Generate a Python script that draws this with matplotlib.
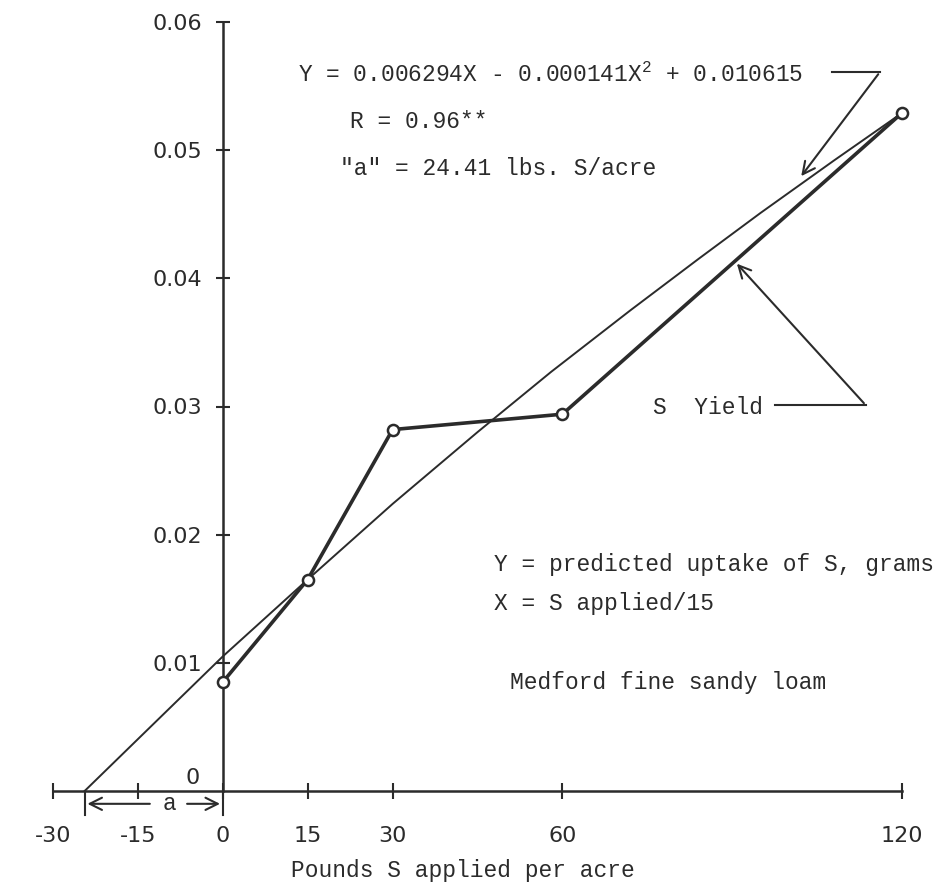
import matplotlib
matplotlib.use("Agg")
import matplotlib.pyplot as plt

# measured S uptake (grams) vs pounds S applied per acre
s_applied = [0, 15, 30, 60, 120]
s_yield = [0.0085, 0.0165, 0.0282, 0.0294, 0.0529]

# fitted curve, points
fit_s = [-24.41, 0, 15, 30, 45, 58, 72, 84, 95, 108, 120]
fit_y = [0.0, 0.0105, 0.0165, 0.0224, 0.0280, 0.0327, 0.0375, 0.0415, 0.0451, 0.0492, 0.0529]

x_ticks = [-30, -15, 0, 15, 30, 60, 120]
y_ticks = [0.01, 0.02, 0.03, 0.04, 0.05, 0.06]
a_value = 24.41

INK = "#2b2b2b"
MONO = "Liberation Mono"
LABEL_FONT = "DejaVu Sans"

plt.rcParams["mathtext.fontset"] = "custom"
plt.rcParams["mathtext.rm"] = MONO

fig = plt.figure(figsize=(9.5, 8.83), dpi=100)
ax = fig.add_axes([53 / 950, 92 / 883, 849 / 950, 769 / 883])
ax.set_xlim(-30, 120)
ax.set_ylim(0, 0.06)

for side in ("top", "right"):
    ax.spines[side].set_visible(False)
ax.spines["left"].set_position(("data", 0))
ax.spines["bottom"].set_position(("data", 0))
for side in ("left", "bottom"):
    ax.spines[side].set_linewidth(1.8)
    ax.spines[side].set_color(INK)

ax.set_xticks(x_ticks)
ax.set_xticklabels([str(v) for v in x_ticks], family=LABEL_FONT, fontsize=16, color=INK)
ax.set_yticks(y_ticks)
ax.set_yticklabels([f"{v:.2f}" for v in y_ticks], family=LABEL_FONT, fontsize=16, color=INK)
ax.tick_params(axis="x", direction="inout", length=12, width=1.5, color=INK, pad=19)
ax.tick_params(axis="y", direction="inout", length=10, width=1.5, color=INK, pad=10)
ax.annotate("0", xy=(0, 0), xytext=(-16.5, 9.5), textcoords="offset points",
            ha="right", va="center", family=LABEL_FONT, fontsize=16, color=INK)

# curves
ax.plot(fit_s, fit_y, color=INK, lw=1.4, zorder=3, clip_on=False)
ax.plot(s_applied, s_yield, color=INK, lw=2.6, zorder=4, clip_on=False,
        marker="o", ms=8, mfc="white", mec=INK, mew=1.8)

txt = dict(family=MONO, fontsize=16.5, color=INK, va="center", ha="left")
ax.text(13.3, 0.0559, r"Y = 0.006294X - 0.000141X$\mathregular{^2}$ + 0.010615", **txt)
ax.text(22.4, 0.0522, "R = 0.96**", **txt)
ax.text(20.7, 0.0486, "\"a\" = 24.41 lbs. S/acre", **txt)
ax.text(76.0, 0.0299, "S  Yield", **txt)
ax.text(48.0, 0.0177, "Y = predicted uptake of S, grams", **txt)
ax.text(48.0, 0.0146, "X = S applied/15", **txt)
ax.text(50.7, 0.0085, "Medford fine sandy loam", **txt)
ax.text(42.5, -0.0062, "Pounds S applied per acre", family=MONO, fontsize=16.5,
        color=INK, ha="center", va="center", clip_on=False)

# leader lines with arrows
arrow = dict(arrowstyle="->", color=INK, lw=1.5, mutation_scale=22)
ax.plot([107.6, 116.1], [0.0561, 0.0561], color=INK, lw=1.5, clip_on=False)
ax.annotate("", xy=(101.9, 0.0478), xytext=(116.1, 0.0561), arrowprops=arrow)
ax.plot([97.5, 113.6], [0.0301, 0.0301], color=INK, lw=1.5, clip_on=False)
ax.annotate("", xy=(90.5, 0.0413), xytext=(113.6, 0.0301), arrowprops=arrow)

# "a" dimension below the x axis
ax.plot([-a_value, -a_value], [0, -0.0019], color=INK, lw=1.5, clip_on=False)
ax.plot([0, 0], [0, -0.0019], color=INK, lw=1.5, clip_on=False)
ax.text(-9.5, -0.0010, "a", family=MONO, fontsize=16.5, color=INK,
        ha="center", va="center")
ax.annotate("", xy=(-a_value, -0.0010), xytext=(-12.4, -0.0010), arrowprops=arrow,
            annotation_clip=False)
ax.annotate("", xy=(0, -0.0010), xytext=(-6.8, -0.0010), arrowprops=arrow,
            annotation_clip=False)

fig.savefig("out.png", dpi=100, facecolor="white")
